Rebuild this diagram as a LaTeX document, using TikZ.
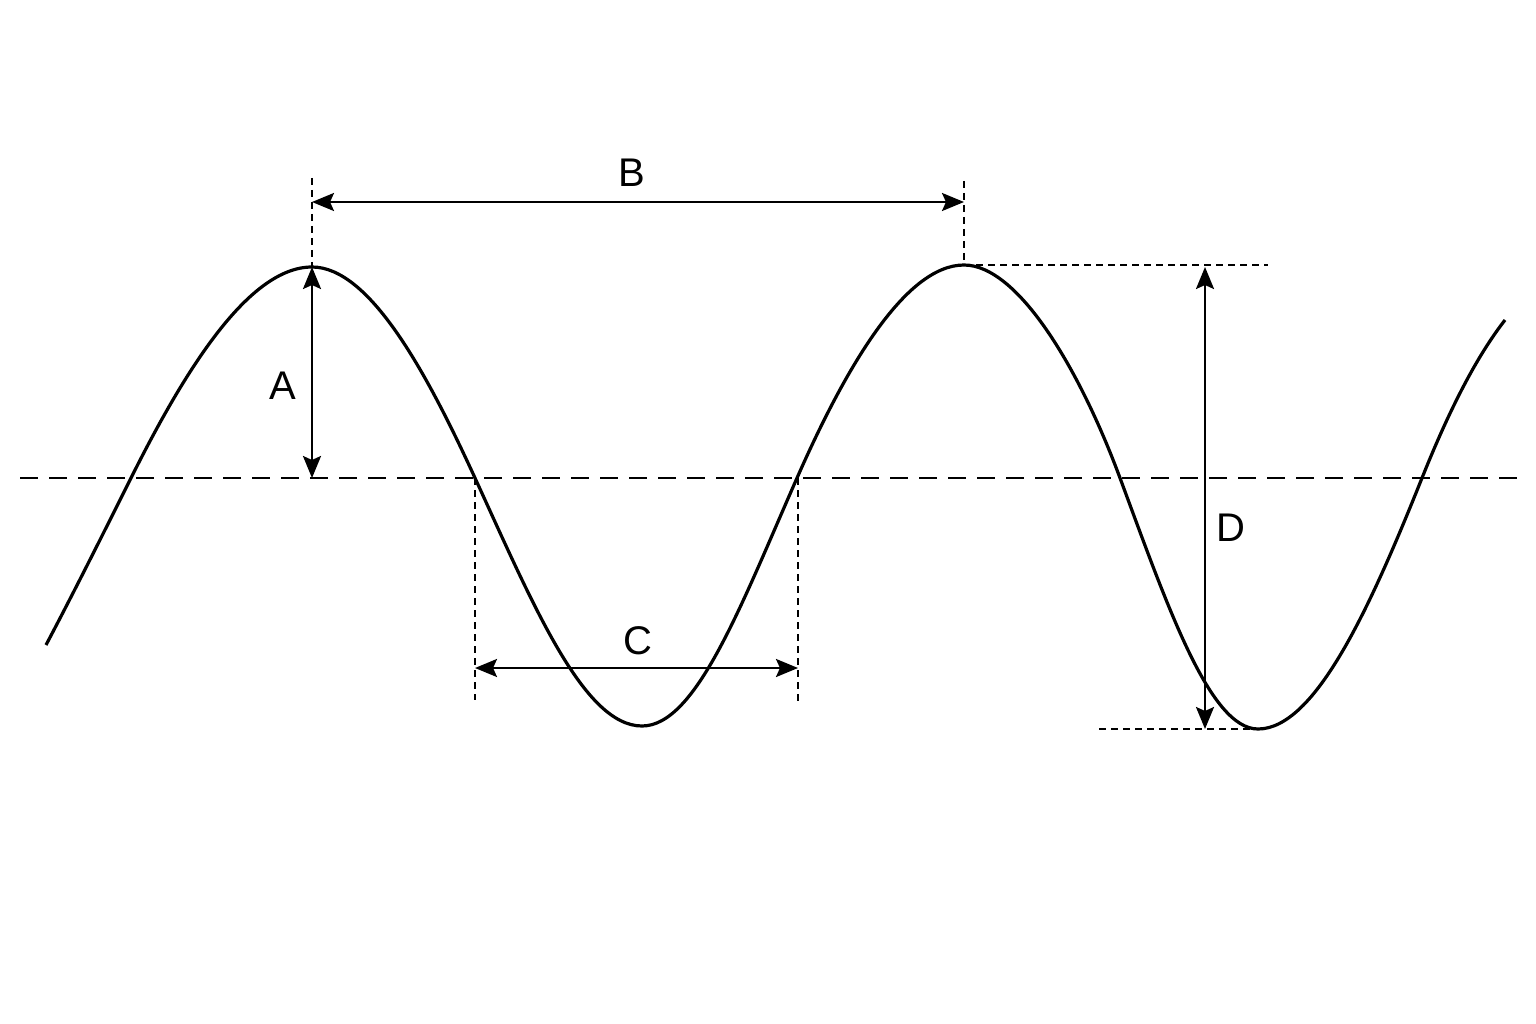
\documentclass[tikz,border=0pt]{standalone}
\usepackage{fontspec}
\setmainfont{Liberation Sans}
\usetikzlibrary{arrows.meta}
\tikzset{dimtip/.tip={Stealth[length=22pt,width=18pt,inset=4pt]}}
\begin{document}
\begin{tikzpicture}[x=1pt,y=-1pt,
  wave/.style={line width=3.2pt, line join=round},
  dimline/.style={line width=2.5pt, arrows={dimtip-dimtip}},
  guide/.style={line width=2pt, dash pattern=on 7pt off 5pt},
  axisline/.style={line width=2pt, dash pattern=on 18pt off 11pt},
  lbl/.style={font=\fontsize{40}{40}\selectfont, inner sep=0pt}]
\useasboundingbox[fill=white] (0,0) rectangle (1536,1024);
% key points
\coordinate (ax0) at (20,478);
\coordinate (ax1) at (1520,478);
\coordinate (st) at (46,645);
\coordinate (x1) at (131,478);
\coordinate (pk1) at (312,267);
\coordinate (x2) at (475,478);
\coordinate (tr1) at (642,726);
\coordinate (x3) at (797,478);
\coordinate (pk2) at (964,265);
\coordinate (x4) at (1120,478);
\coordinate (tr2) at (1258,729);
\coordinate (x5) at (1422,478);
\coordinate (en) at (1505,320);
\coordinate (pk1a) at (312,478);
\coordinate (bt1) at (312,178);
\coordinate (bt2) at (964,181);
\coordinate (bl) at (312,202);
\coordinate (br) at (964,202);
\coordinate (c1b) at (475,700);
\coordinate (c2t) at (798,478);
\coordinate (c2b) at (798,705);
\coordinate (cl) at (475,668);
\coordinate (cr) at (798,668);
\coordinate (dte) at (1268,265);
\coordinate (dbs) at (1099,729);
\coordinate (dt) at (1205,267);
\coordinate (db) at (1205,729);
% axis
\draw[axisline] (ax0) -- (ax1);
% wave
\draw[wave] (st)
  .. controls (74,592) and (103,534) .. (x1)
  .. controls (184.9,370.2) and (248.7,267) .. (pk1)
  .. controls (369,267) and (425.6,370.2) .. (x2)
  .. controls (533.1,604.7) and (583.6,726) .. (tr1)
  .. controls (696.2,726) and (741.2,604.7) .. (x3)
  .. controls (844.9,369.2) and (905,265) .. (pk2)
  .. controls (1017.9,265) and (1079.7,369.2) .. (x4)
  .. controls (1167.5,606.2) and (1209.7,729) .. (tr2)
  .. controls (1315.4,729) and (1370.7,606.2) .. (x5)
  .. controls (1450,408) and (1477,356) .. (en);
% guides
\draw[guide] (bt1) -- (pk1);
\draw[guide] (bt2) -- (pk2);
\draw[guide] (x2) -- (c1b);
\draw[guide] (c2t) -- (c2b);
\draw[guide] (pk2) -- (dte);
\draw[guide] (dbs) -- (tr2);
% dimension arrows
\draw[dimline] (pk1) -- (pk1a);
\draw[dimline] (bl) -- (br);
\draw[dimline] (cl) -- (cr);
\draw[dimline] (dt) -- (db);
% labels
\node[lbl] (la) at (283,386) {A};
\node[lbl] (lb) at (632,173) {B};
\node[lbl] (lc) at (638,641) {C};
\node[lbl] (ld) at (1231,528) {D};
\end{tikzpicture}
\end{document}
